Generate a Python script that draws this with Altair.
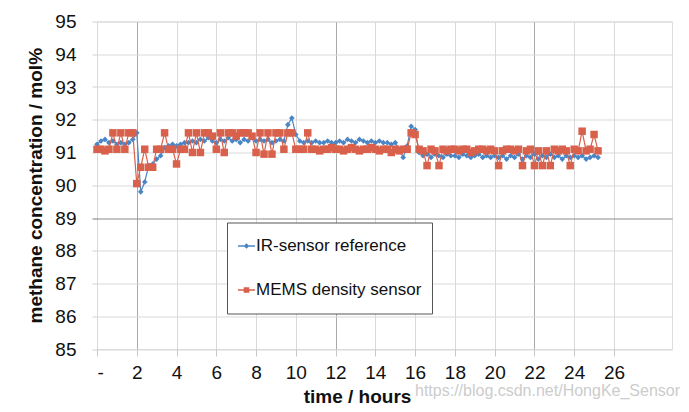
import altair as alt
import pandas as pd

SERIES = ["IR-sensor reference", "MEMS density sensor"]
COLORS = ["#4a86c5", "#d9604b"]

# sampling of both records (hours)
T_START = 0.0
T_STEP = 0.2

ir_values = [
    91.25, 91.35, 91.4, 91.3, 91.35, 91.25, 91.3, 91.25, 91.3, 91.4,
    91.6, 89.8, 90.1, 90.6, 90.65, 90.8, 90.9, 91.15, 91.2, 91.25,
    91.2, 91.25, 91.3, 91.3, 91.35, 91.3, 91.4, 91.35, 91.45, 91.35,
    91.3, 91.4, 91.35, 91.45, 91.35, 91.4, 91.3, 91.4, 91.35, 91.45,
    91.35, 91.4, 91.35, 91.4, 91.3, 91.35, 91.4, 91.35, 91.85, 92.05,
    91.55, 91.35, 91.3, 91.35, 91.3, 91.35, 91.3, 91.3, 91.35, 91.3,
    91.3, 91.35, 91.3, 91.4, 91.35, 91.3, 91.4, 91.35, 91.3, 91.35,
    91.3, 91.35, 91.3, 91.3, 91.25, 91.3, 91.1, 90.85, 91.2, 91.8,
    91.7, 91.0, 90.9, 90.95, 90.85, 90.95, 90.9, 90.85, 90.95, 90.9,
    90.9, 90.85, 90.95, 90.9, 90.85, 90.9, 90.95, 90.85, 90.9, 90.85,
    90.9, 90.85, 90.9, 90.8, 90.9, 90.85, 90.95, 90.8, 90.9, 90.85,
    90.95, 90.8, 90.9, 90.85, 90.95, 90.85, 90.9, 90.8, 90.9, 90.85,
    90.9, 90.85, 90.9, 90.8, 90.85, 90.9, 90.85,
]

mems_values = [
    91.1, 91.1, 91.05, 91.1, 91.6, 91.1, 91.6, 91.1, 91.6, 91.6,
    90.05, 90.55, 91.1, 90.55, 90.55, 91.1, 91.1, 91.6, 91.1, 91.1,
    90.65, 91.1, 91.1, 91.6, 91.0, 91.6, 91.0, 91.6, 91.6, 91.5,
    91.1, 91.6, 91.0, 91.6, 91.6, 91.5, 91.6, 91.6, 91.6, 91.5,
    91.0, 91.6, 90.95, 91.6, 90.95, 91.6, 91.6, 91.1, 91.6, 91.6,
    91.1, 91.1, 91.1, 91.6, 91.1, 91.1, 91.05, 91.1, 91.1, 91.15,
    91.1, 91.1, 91.05, 91.1, 91.15, 91.1, 91.05, 91.1, 91.1, 91.15,
    91.1, 91.05, 91.1, 91.1, 91.0, 91.1, 91.05, 91.1, 91.1, 91.6,
    91.55, 91.1, 91.05, 90.6, 91.1, 91.05, 90.6, 91.1, 91.05, 91.1,
    91.1, 91.05, 91.1, 91.1, 91.0, 91.05, 91.1, 91.1, 91.05, 91.1,
    91.05, 90.6, 91.05, 91.1, 91.1, 91.05, 91.1, 90.6, 91.05, 91.1,
    90.6, 91.05, 90.6, 91.05, 90.6, 91.1, 91.05, 91.1, 91.05, 90.6,
    91.1, 91.05, 91.65, 91.05, 91.1, 91.55, 91.05,
]

x_ticks = list(range(0, 27, 2))
y_ticks = list(range(85, 96))

WATERMARK = "https://blog.csdn.net/HongKe_Sensor"
FONT = "Liberation Sans"

n = len(ir_values)
times = [round(T_START + T_STEP * i, 2) for i in range(n)]
df = pd.DataFrame({
    "t": times + times,
    "v": ir_values + mems_values,
    "series": [SERIES[0]] * n + [SERIES[1]] * n,
})

series_scale = alt.Scale(domain=SERIES, range=COLORS)

x_enc = alt.X(
    "t:Q",
    scale=alt.Scale(domain=[0, 28.92], nice=False, zero=False),
    axis=alt.Axis(
        values=x_ticks,
        labelExpr="datum.value == 0 ? '-' : datum.label",
        title="time / hours",
        titleX=260,
        titleY=53,
        titleAlign="center",
        titleBaseline="alphabetic",
        titleFontSize=19,
        titleFontWeight="bold",
        titleFont=FONT,
        titleColor="#111",
        labelFontSize=19,
        labelFont=FONT,
        labelColor="#111",
        labelPadding=7,
        tickSize=7,
        tickColor="#c8c8c8",
        domain=False,
        grid=True,
        gridColor=alt.condition(
            "datum.value == 2 || datum.value == 12 || datum.value == 22",
            alt.value("#a9a9a9"),
            alt.value("#d9d9d9"),
        ),
        gridWidth=1,
    ),
)

y_enc = alt.Y(
    "v:Q",
    scale=alt.Scale(domain=[85, 95], nice=False, zero=False),
    axis=alt.Axis(
        values=y_ticks,
        title="methane concentration / mol%",
        titleX=-56,
        titleY=163.75,
        titleAngle=270,
        titleAlign="center",
        titleBaseline="alphabetic",
        titleFontSize=19,
        titleFontWeight="bold",
        titleFont=FONT,
        titleColor="#111",
        labelFontSize=19,
        labelFont=FONT,
        labelColor="#111",
        labelPadding=16,
        tickSize=5,
        tickColor=alt.condition("datum.value == 89", alt.value("#777777"), alt.value("#d0d0d0")),
        domain=False,
        grid=True,
        gridColor=alt.condition("datum.value == 89", alt.value("#8a8a8a"), alt.value("#d9d9d9")),
        gridWidth=1,
    ),
)

base = alt.Chart(df)
ir = base.transform_filter(alt.datum.series == SERIES[0])
mems = base.transform_filter(alt.datum.series == SERIES[1])

ir_line = ir.mark_line(strokeWidth=1.2, color=COLORS[0]).encode(x=x_enc, y=y_enc, order="t:Q")
ir_pts = ir.mark_point(shape="diamond", filled=True, size=32, opacity=1, color=COLORS[0]).encode(
    x=x_enc, y=y_enc)

mems_line = mems.mark_line(strokeWidth=1.2, color=COLORS[1]).encode(x=x_enc, y=y_enc, order="t:Q")
mems_pts = mems.mark_point(shape="square", filled=True, size=56, opacity=1, color=COLORS[1]).encode(
    x=x_enc, y=y_enc)

legend_props = dict(
    orient="none",
    legendX=130,
    legendY=201,
    title=None,
    fillColor="white",
    strokeColor="#555555",
    padding=10,
    symbolSize=289,
    symbolStrokeWidth=1.4,
    labelFontSize=17,
    labelFont=FONT,
    labelColor="#111",
    labelOffset=0,
    labelLimit=260,
    clipHeight=27,
    rowPadding=17,
    symbolOpacity=1,
)

IR_PATH = "M-1,0L1,0M0,-0.22L0.22,0L0,0.22L-0.22,0Z"
MEMS_PATH = "M-1,0L1,0M-0.25,-0.25L0.25,-0.25L0.25,0.25L-0.25,0.25Z"

legend_layer = base.transform_filter("datum.t < -1").mark_point(
    filled=True, opacity=1, strokeWidth=1.4
).encode(
    x=x_enc, y=y_enc,
    fill=alt.Fill("series:N", scale=series_scale, legend=alt.Legend(**legend_props)),
    stroke=alt.Stroke("series:N", scale=series_scale, legend=alt.Legend(**legend_props)),
    shape=alt.Shape("series:N", scale=alt.Scale(domain=SERIES, range=[IR_PATH, MEMS_PATH]),
                    legend=alt.Legend(**legend_props)),
)

chart = alt.layer(ir_line, ir_pts, mems_line, mems_pts, legend_layer).properties(
    width=575,
    height=327.5,
    autosize=alt.AutoSizeParams(type="none"),
    padding={"left": 89, "top": 13.5, "right": 9, "bottom": 63},
    title=alt.TitleParams(
        text=WATERMARK,
        orient="bottom",
        anchor="start",
        frame="group",
        dx=318,
        dy=-10,
        offset=0,
        baseline="alphabetic",
        fontSize=16,
        fontWeight="normal",
        font=FONT,
        color="#cccccc",
    ),
).configure_view(stroke=None).configure(background="white")

chart.save("out.html", embed_options={"renderer": "svg", "actions": False})
